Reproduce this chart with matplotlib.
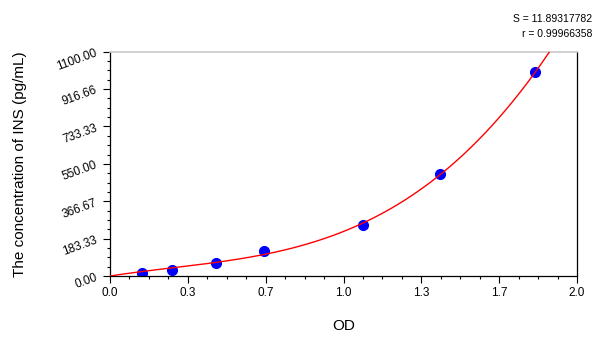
import numpy as np
from matplotlib import pyplot as plt
from matplotlib.ticker import MultipleLocator, FixedLocator

plt.rcParams['font.family'] = ['Liberation Sans', 'DejaVu Sans']

# Pontos do padrao (OD x concentracao)
od = [0.138, 0.264, 0.453, 0.661, 1.085, 1.415, 1.821]
conc = [15.6, 31.25, 62.5, 125, 250, 500, 1000]

x_ticks = [0.0, 1/3, 2/3, 1.0, 4/3, 5/3, 2.0]
x_labels = ["0.0", "0.3", "0.7", "1.0", "1.3", "1.7", "2.0"]
y_ticks = [0, 183.33, 366.67, 550, 733.33, 916.66, 1100]
y_labels = ["0.00", "183.33", "366.67", "550.00", "733.33", "916.66", "1100.00"]

s_text = "S = 11.89317782"
r_text = "r = 0.99966358"

# curva ajustada (cubica passando pela origem) a partir dos pontos
x_arr = np.array(od)
A = np.column_stack([x_arr, x_arr**2, x_arr**3])
coef, *_ = np.linalg.lstsq(A, np.array(conc), rcond=None)
xc = np.linspace(0, 2.0, 400)
yc = coef[0]*xc + coef[1]*xc**2 + coef[2]*xc**3

fig = plt.figure(figsize=(6, 3.37), dpi=100)
ax = fig.add_axes([0.1833, 0.181, 0.7784, 0.6656])

ax.plot(xc, yc, color='red', lw=1.0, zorder=3)
ax.plot(od, conc, 'o', color='#0000ff', markersize=7, zorder=2)

ax.set_xlim(0, 2.0)
ax.set_ylim(0, 1100)

ax.xaxis.set_major_locator(FixedLocator(x_ticks))
ax.set_xticklabels(x_labels, fontsize=8.5)
ax.xaxis.set_minor_locator(MultipleLocator(1/12))
ax.yaxis.set_major_locator(FixedLocator(y_ticks))
ax.set_yticklabels(y_labels, fontsize=8.5, rotation=20)
ax.yaxis.set_minor_locator(MultipleLocator(1100/24))

ax.tick_params(which='major', length=5, width=0.8, direction='out', pad=3)
ax.tick_params(which='minor', length=2.5, width=0.8, direction='out')

ax.spines['top'].set_color('#c8c8c8')
ax.spines['top'].set_linewidth(1.2)
for s in ['left', 'bottom', 'right']:
    ax.spines[s].set_linewidth(0.9)

ax.set_xlabel("OD", fontsize=11, labelpad=14)
ax.set_ylabel("The concentration of INS (pg/mL)", fontsize=11, labelpad=20)

fig.text(0.987, 0.945, s_text, ha='right', va='center', fontsize=7.5)
fig.text(0.987, 0.898, r_text, ha='right', va='center', fontsize=7.5)

fig.savefig("out.png", dpi=100)
